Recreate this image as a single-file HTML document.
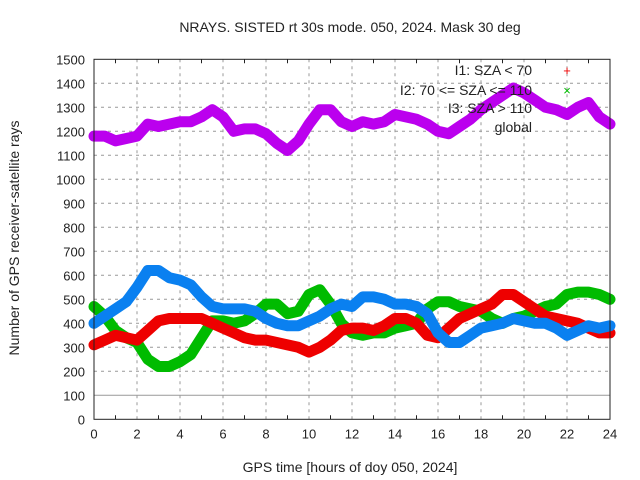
<!DOCTYPE html>
<html><head><meta charset="utf-8"><style>
body{margin:0;background:#fff}
svg{display:block;font-family:"Liberation Sans",sans-serif}
</style></head><body>
<svg id="chart" width="640" height="480">
<text x="350" y="32" font-size="14" text-anchor="middle" fill="#222">NRAYS. SISTED rt 30s mode. 050, 2024. Mask 30 deg</text>
<g id="grid"></g>
<g id="series"></g>
<g id="axes"></g>
<g id="legend" font-size="14" fill="#222">
<text x="532" y="75" text-anchor="end">I1: SZA &lt; 70</text>
<text x="567" y="75" text-anchor="middle" fill="#e00" font-size="13">+</text>
<text x="532" y="95" text-anchor="end">I2: 70 &lt;= SZA &lt;= 110</text>
<text x="567" y="95" text-anchor="middle" fill="#0b0" font-size="13">×</text>
<text x="532" y="113" text-anchor="end">I3: SZA &gt; 110</text>
<text x="532" y="132" text-anchor="end">global</text>
</g>
<text x="350" y="472" font-size="14" text-anchor="middle" fill="#222">GPS time [hours of doy 050, 2024]</text>
<text transform="translate(19,238) rotate(-90)" font-size="14" text-anchor="middle" fill="#222">Number of GPS receiver-satellite rays</text>
</svg>
<script>
const hours=[0,0.5,1,1.5,2,2.5,3,3.5,4,4.5,5,5.5,6,6.5,7,7.5,8,8.5,9,9.5,10,10.5,11,11.5,12,12.5,13,13.5,14,14.5,15,15.5,16,16.5,17,17.5,18,18.5,19,19.5,20,20.5,21,21.5,22,22.5,23,23.5,24];
const globalVals=[1180,1180,1160,1170,1180,1230,1220,1230,1240,1240,1260,1290,1260,1200,1210,1210,1190,1150,1120,1160,1230,1290,1290,1240,1220,1240,1230,1240,1270,1260,1250,1230,1200,1190,1220,1250,1290,1320,1350,1380,1360,1330,1300,1290,1270,1300,1320,1260,1230];
const i3Vals=[400,430,460,490,550,620,620,590,580,560,510,470,460,460,460,450,420,400,390,390,410,430,460,480,470,510,510,500,480,480,470,440,360,320,320,350,380,390,400,420,410,400,400,380,350,370,390,380,390];
const i1Vals=[310,330,350,340,330,370,410,420,420,420,420,400,380,360,340,330,330,320,310,300,280,300,330,370,380,380,370,390,420,420,400,350,340,380,420,440,460,480,520,520,490,460,430,420,410,400,380,360,360];
const i2Vals=[470,430,370,340,320,250,220,220,240,270,340,410,410,400,410,440,480,480,440,450,520,540,480,400,360,350,360,360,380,390,400,460,490,490,470,460,450,420,400,420,430,450,470,480,520,530,530,520,500];
const xTicks=[0,2,4,6,8,10,12,14,16,18,20,22,24];
const yTicks=[0,100,200,300,400,500,600,700,800,900,1000,1100,1200,1300,1400,1500];
const X0=94,X1=610,Y0=419.3,Y1=59.3;
const xs=v=>X0+(X1-X0)*v/24, ys=v=>Y0-(Y0-Y1)*v/1500;
const NS="http://www.w3.org/2000/svg";
function mk(t,a,p){const e=document.createElementNS(NS,t);for(const k in a)e.setAttribute(k,a[k]);p.appendChild(e);return e;}
const grid=document.getElementById('grid'),axes=document.getElementById('axes'),ser=document.getElementById('series');
xTicks.forEach(t=>{const x=xs(t);
 if(t>0&&t<24){const l=mk('line',{x1:x,x2:x,y1:Y1,y2:Y0,stroke:'#999','stroke-dasharray':'3,4'},grid);
 
 }
 const tx=mk('text',{x:x,y:Y0+19,'font-size':13,'text-anchor':'middle',fill:'#222'},axes);tx.textContent=t;
 
 
});
for(let h=1;h<24;h+=2){const x=xs(h);mk('line',{x1:x,x2:x,y1:Y0,y2:Y0-4,stroke:'#222'},axes);mk('line',{x1:x,x2:x,y1:Y1,y2:Y1+4,stroke:'#222'},axes);}
yTicks.forEach(t=>{const y=ys(t);
 if(t>0&&t<1500){const l=mk('line',{x1:X0,x2:X1,y1:y,y2:y,stroke:t==100?'#999':'#999','stroke-dasharray':t==100?'':'3,4'},grid);
 
 }
 const tx=mk('text',{x:X0-9,y:y+5,'font-size':13,'text-anchor':'end',fill:'#222'},axes);tx.textContent=t;
 
 
});
const fr=mk('rect',{x:X0,y:Y1,width:X1-X0,height:Y0-Y1,fill:'none',stroke:'#222'},axes);


function line(vals,color,name){
 const pts=hours.map((h,i)=>xs(h).toFixed(1)+','+ys(vals[i]).toFixed(1)).join(' ');
 const p=mk('polyline',{points:pts,fill:'none',stroke:color,'stroke-width':11,'stroke-linejoin':'round','stroke-linecap':'round'},ser);
 
 
}
line(i2Vals,'#00bb00','series-i2');
line(i1Vals,'#ee0000','series-i1');
line(i3Vals,'#0a80f0','series-i3');
line(globalVals,'#bb00ee','series-global');
</script>
</body></html>
